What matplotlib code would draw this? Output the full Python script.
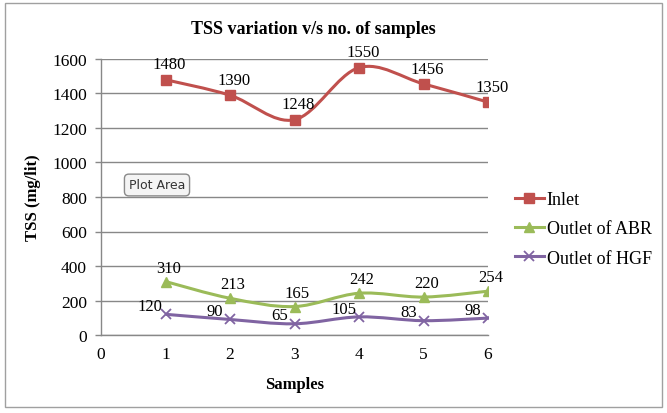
import matplotlib
matplotlib.use("Agg")
import matplotlib.pyplot as plt
from matplotlib.path import Path
from matplotlib.patches import PathPatch, Rectangle
import numpy as np

samples = [1, 2, 3, 4, 5, 6]
inlet = [1480, 1390, 1248, 1550, 1456, 1350]
outlet_abr = [310, 213, 165, 242, 220, 254]
outlet_hgf = [120, 90, 65, 105, 83, 98]
series_names = ["Inlet", "Outlet of ABR", "Outlet of HGF"]
y_ticks = [0, 200, 400, 600, 800, 1000, 1200, 1400, 1600]
x_ticks = [0, 1, 2, 3, 4, 5, 6]

colors = ["#C0504D", "#9BBB59", "#8064A2"]
markers = ["s", "^", "x"]
label_offsets = [(3, 11), (2, 10), (-11, 6)]  # points

plt.rcParams['font.family'] = ['Liberation Serif', 'DejaVu Serif']

fig = plt.figure(figsize=(6.67, 4.14), dpi=100)
ax = fig.add_axes([101/667, 1-336/414, (488-101)/667, (336-60)/414])

def smooth_path(xs, ys):
    xs = np.asarray(xs, float); ys = np.asarray(ys, float)
    n = len(xs)
    verts = [(xs[0], ys[0])]
    codes = [Path.MOVETO]
    for i in range(n-1):
        p0 = i-1 if i > 0 else i
        p3 = i+2 if i+2 < n else i+1
        c1 = (xs[i] + (xs[i+1]-xs[p0])/6, ys[i] + (ys[i+1]-ys[p0])/6)
        c2 = (xs[i+1] - (xs[p3]-xs[i])/6, ys[i+1] - (ys[p3]-ys[i])/6)
        verts += [c1, c2, (xs[i+1], ys[i+1])]
        codes += [Path.CURVE4]*3
    return Path(verts, codes)

all_series = [inlet, outlet_abr, outlet_hgf]
handles = []
for vals, name, c, m, off in zip(all_series, series_names, colors, markers, label_offsets):
    ax.add_patch(PathPatch(smooth_path(samples, vals), facecolor='none', edgecolor=c, lw=2.2, zorder=3))
    ms = 7.5 if m == 'x' else 6.5
    mew = 1.3 if m == 'x' else 1
    ax.plot(samples, vals, linestyle='none', marker=m, ms=ms, mew=mew, color=c, zorder=4)
    h, = ax.plot([], [], color=c, lw=2.2, marker=m, ms=ms, mew=mew)
    handles.append(h)
    for x, v in zip(samples, vals):
        ax.annotate(str(v), (x, v), xytext=off, textcoords='offset points',
                    ha='center', va='center', fontsize=12, color='black', zorder=5)

ax.set_xlim(0, 6)
ax.set_ylim(0, 1600)
ax.set_xticks(x_ticks)
ax.set_yticks(y_ticks)
ax.tick_params(axis='both', labelsize=12.5, length=4, color='#888888', width=1)
ax.tick_params(axis='y', pad=6)
ax.tick_params(axis='x', length=0, pad=8)
ax.yaxis.grid(True, color='#888888', lw=1)
ax.set_axisbelow(True)
for s in ['top', 'right']:
    ax.spines[s].set_visible(False)
for s in ['left', 'bottom']:
    ax.spines[s].set_color('#888888')
    ax.spines[s].set_linewidth(1)

ax.set_xlabel("Samples", fontsize=12, fontweight='bold', labelpad=10)
ax.set_ylabel("TSS (mg/lit)", fontsize=12, fontweight='bold', labelpad=8)
fig.text(313/667, 1-30/414, "TSS variation v/s no. of samples", fontsize=13,
         fontweight='bold', ha='center', va='center')

leg = fig.legend(handles, series_names, loc='upper left', bbox_to_anchor=(515/667, 1-192/414),
                 frameon=False, fontsize=13, handlelength=1.6, handletextpad=0.15,
                 labelspacing=0.68, borderaxespad=0, borderpad=0)

fig.text(157/667, 1-186/414, "Plot Area", fontsize=9, family='DejaVu Sans', color='#333333',
         ha='center', va='center',
         bbox=dict(boxstyle='round,pad=0.35', fc='#f4f4f4', ec='#8a8a8a', lw=1))

fig.add_artist(Rectangle((5/667, 6/414), 657/667, 404/414, transform=fig.transFigure,
                         fill=False, ec='#a0a0a0', lw=1))

fig.savefig("out.png", dpi=100)
